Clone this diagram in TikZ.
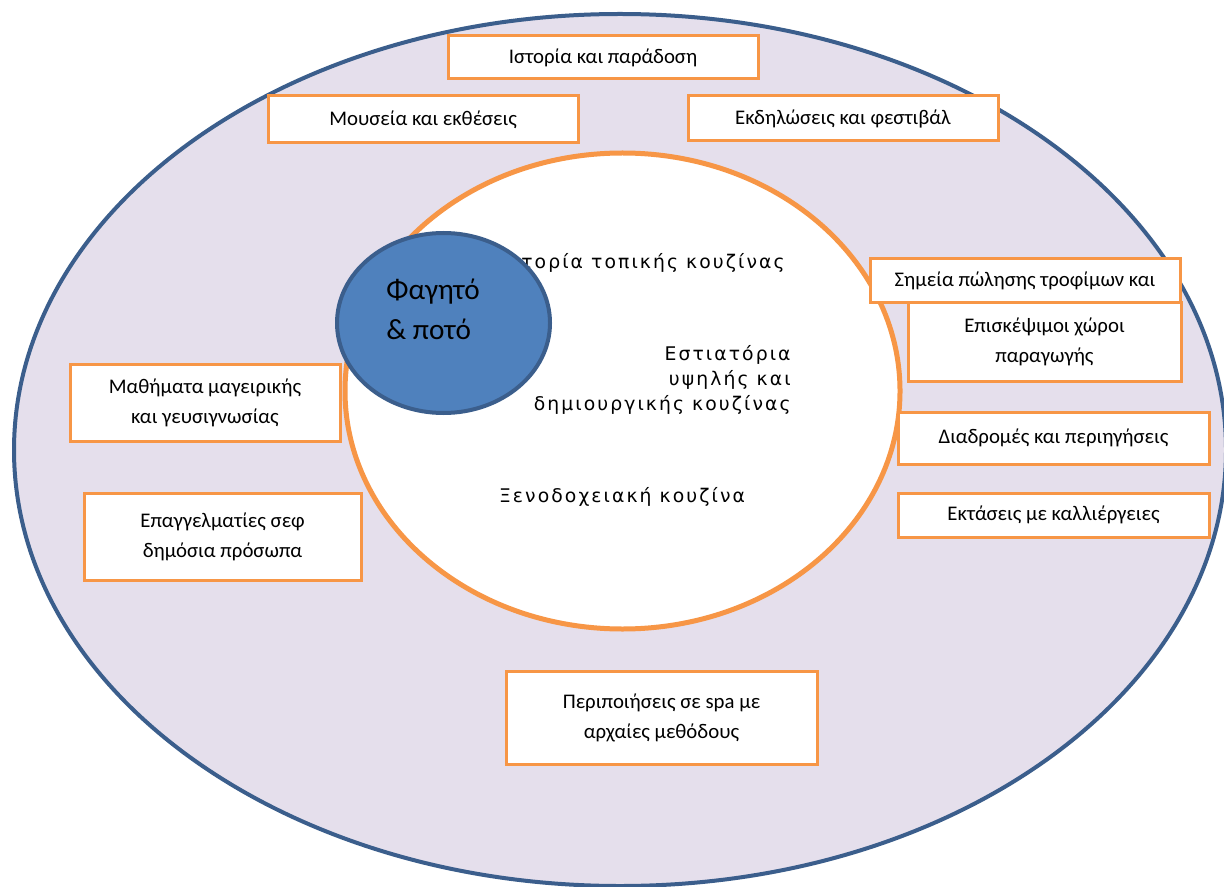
\documentclass[tikz,border=0pt]{standalone}
\usepackage{fontspec}
\setmainfont{Carlito}
\newfontfamily\widefont[LetterSpace=11]{DejaVu Sans}
\usepackage{xcolor}
\usepackage{tikz}
\definecolor{lavender}{HTML}{E5DFEC}
\definecolor{darkblue}{HTML}{3B5E8C}
\definecolor{midblue}{HTML}{4F81BD}
\definecolor{boxorange}{HTML}{F79646}
\tikzset{
  box/.style={draw=boxorange, line width=1.5pt, fill=white, align=center,
    inner sep=0pt, font=\fontsize{10.4}{15}\selectfont},
  inner/.style={font=\widefont\fontsize{9.4}{12.5}\selectfont, inner sep=0pt}
}

\begin{document}
\begin{tikzpicture}[x=0.5pt,y=-0.5pt]
\useasboundingbox (0,0) rectangle (1224,887);
\fill[white] (0,0) rectangle (1224,887);
\draw[darkblue,line width=2pt,fill=lavender] (620,450) ellipse [x radius=303pt, y radius=218pt];
\draw[boxorange,line width=2.5pt,fill=white] (622.5,391) ellipse [x radius=138.75pt, y radius=119pt];
\node[inner,anchor=east] (local) at (785,263) {Ιστορία τοπικής κουζίνας};
\node[inner,anchor=east,align=right] (haute) at (791,380) {Εστιατόρια\\υψηλής και\\δημιουργικής κουζίνας};
\node[inner] (hotel) at (622,497) {Ξενοδοχειακή κουζίνα};
\draw[darkblue,line width=2pt,fill=midblue] (443.5,323) ellipse [x radius=53.25pt, y radius=45pt];
\node[anchor=west,align=left,inner sep=0pt,font=\fontsize{14.6}{20}\selectfont] (food) at (386,309) {Φαγητό\\\& ποτό};
\node[box,minimum width=155pt,minimum height=21.5pt] (history) at (603,57.5) {Ιστορία και παράδοση};
\node[box,minimum width=155pt,minimum height=23.5pt] (museums) at (423,119.5) {Μουσεία και εκθέσεις};
\node[box,minimum width=155pt,minimum height=22.5pt] (events) at (843,118.5) {Εκδηλώσεις και φεστιβάλ};
\node[box,minimum width=136.5pt,minimum height=39pt] (visits) at (1044.5,342) {Επισκέψιμοι χώροι\\παραγωγής};
\node[box,minimum width=155pt,minimum height=22pt] (shops) at (1025,281) {Σημεία πώλησης τροφίμων και};
\node[box,minimum width=155.5pt,minimum height=26pt] (routes) at (1053.5,438) {Διαδρομές και περιηγήσεις};
\node[box,minimum width=155.5pt,minimum height=22pt] (fields) at (1053.5,515) {Εκτάσεις με καλλιέργειες};
\node[box,minimum width=135pt,minimum height=38.5pt] (lessons) at (205,402.5) {Μαθήματα μαγειρικής\\και γευσιγνωσίας};
\node[box,minimum width=138.5pt,minimum height=43.5pt] (chefs) at (222.5,536.5) {Επαγγελματίες σεφ\\δημόσια πρόσωπα};
\node[box,minimum width=155.5pt,minimum height=46.5pt] (spa) at (661.5,717.5) {Περιποιήσεις σε spa με\\αρχαίες μεθόδους};
\end{tikzpicture}
\end{document}
